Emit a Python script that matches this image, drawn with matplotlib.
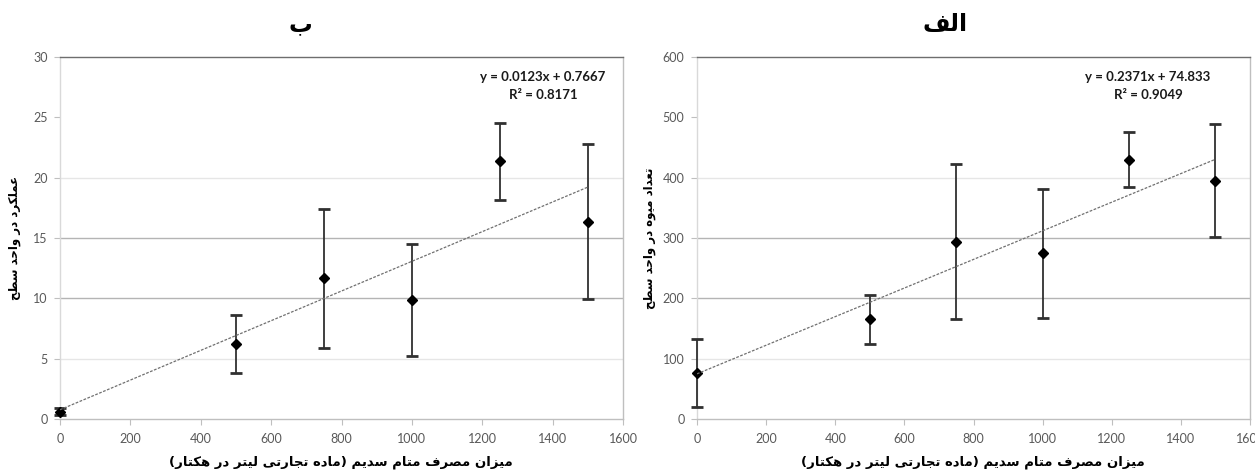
import matplotlib
matplotlib.use("Agg")
import matplotlib.pyplot as plt
import numpy as np

# ---------------- data ----------------
dose = [0, 500, 750, 1000, 1250, 1500]

yield_mean = [0.6, 6.2, 11.65, 9.85, 21.35, 16.35]
yield_err = [0.3, 2.4, 5.75, 4.65, 3.2, 6.4]

fruit_mean = [76, 165, 294, 275, 430, 395]
fruit_err = [56, 41, 129, 107, 45, 94]

yield_slope, yield_intercept, yield_r2 = 0.0123, 0.7667, 0.8171
fruit_slope, fruit_intercept, fruit_r2 = 0.2371, 74.833, 0.9049

x_ticks = [0, 200, 400, 600, 800, 1000, 1200, 1400, 1600]
yield_ticks = [0, 5, 10, 15, 20, 25, 30]
fruit_ticks = [0, 100, 200, 300, 400, 500, 600]

title_left = "ب"
title_right = "الف"
xlabel_text = "میزان مصرف متام سدیم (ماده تجارتی لیتر در هکتار)"
ylabel_left = "عملکرد در واحد سطح"
ylabel_right = "تعداد میوه در واحد سطح"

# ---------------- minimal Persian shaping (presentation forms, visual order) ----------------
FORMS = {
    "\u0627": ("\uFE8D", "\uFE8E", None, None),
    "\u0622": ("\uFE81", "\uFE82", None, None),
    "\u0628": ("\uFE8F", "\uFE90", "\uFE91", "\uFE92"),
    "\u067E": ("\uFB56", "\uFB57", "\uFB58", "\uFB59"),
    "\u062A": ("\uFE95", "\uFE96", "\uFE97", "\uFE98"),
    "\u062B": ("\uFE99", "\uFE9A", "\uFE9B", "\uFE9C"),
    "\u062C": ("\uFE9D", "\uFE9E", "\uFE9F", "\uFEA0"),
    "\u0686": ("\uFB7A", "\uFB7B", "\uFB7C", "\uFB7D"),
    "\u062D": ("\uFEA1", "\uFEA2", "\uFEA3", "\uFEA4"),
    "\u062E": ("\uFEA5", "\uFEA6", "\uFEA7", "\uFEA8"),
    "\u062F": ("\uFEA9", "\uFEAA", None, None),
    "\u0630": ("\uFEAB", "\uFEAC", None, None),
    "\u0631": ("\uFEAD", "\uFEAE", None, None),
    "\u0632": ("\uFEAF", "\uFEB0", None, None),
    "\u0698": ("\uFB8A", "\uFB8B", None, None),
    "\u0633": ("\uFEB1", "\uFEB2", "\uFEB3", "\uFEB4"),
    "\u0634": ("\uFEB5", "\uFEB6", "\uFEB7", "\uFEB8"),
    "\u0635": ("\uFEB9", "\uFEBA", "\uFEBB", "\uFEBC"),
    "\u0636": ("\uFEBD", "\uFEBE", "\uFEBF", "\uFEC0"),
    "\u0637": ("\uFEC1", "\uFEC2", "\uFEC3", "\uFEC4"),
    "\u0638": ("\uFEC5", "\uFEC6", "\uFEC7", "\uFEC8"),
    "\u0639": ("\uFEC9", "\uFECA", "\uFECB", "\uFECC"),
    "\u063A": ("\uFECD", "\uFECE", "\uFECF", "\uFED0"),
    "\u0641": ("\uFED1", "\uFED2", "\uFED3", "\uFED4"),
    "\u0642": ("\uFED5", "\uFED6", "\uFED7", "\uFED8"),
    "\u06A9": ("\uFB8E", "\uFB8F", "\uFB90", "\uFB91"),
    "\u06AF": ("\uFB92", "\uFB93", "\uFB94", "\uFB95"),
    "\u0644": ("\uFEDD", "\uFEDE", "\uFEDF", "\uFEE0"),
    "\u0645": ("\uFEE1", "\uFEE2", "\uFEE3", "\uFEE4"),
    "\u0646": ("\uFEE5", "\uFEE6", "\uFEE7", "\uFEE8"),
    "\u0647": ("\uFEE9", "\uFEEA", "\uFEEB", "\uFEEC"),
    "\u0648": ("\uFEED", "\uFEEE", None, None),
    "\u06CC": ("\uFBFC", "\uFBFD", "\uFBFE", "\uFBFF"),
}


def dual(c):
    return c in FORMS and FORMS[c][2] is not None


def shape(text):
    out = []
    n = len(text)
    for i, c in enumerate(text):
        if c not in FORMS:
            out.append(c)
            continue
        prev = text[i - 1] if i > 0 else ""
        nxt = text[i + 1] if i + 1 < n else ""
        jp = dual(prev)
        jn = dual(c) and nxt in FORMS
        f = FORMS[c]
        if jp and jn:
            out.append(f[3])
        elif jp:
            out.append(f[1])
        elif jn:
            out.append(f[2])
        else:
            out.append(f[0])
    vis = "".join(reversed(out))
    swap = {"(": ")", ")": "("}
    return "".join(swap.get(ch, ch) for ch in vis)


# ---------------- figure ----------------
W, H = 1255, 472
fig = plt.figure(figsize=(W / 100, H / 100), dpi=100)
fig.patch.set_facecolor("white")

tick_font = dict(family=["Lato", "DejaVu Sans"], size=9, color="#595959")
fa_font = ["DejaVu Sans"]


def style_axes(ax, yticks, means, errs, slope, intercept, r2, eq_x, ylab, ylab_x):
    ax.set_xlim(0, 1600)
    ax.set_ylim(yticks[0], yticks[-1])
    ax.set_xticks(x_ticks)
    ax.set_yticks(yticks)
    ax.set_xticklabels([str(t) for t in x_ticks], fontdict=tick_font)
    ax.set_yticklabels([str(t) for t in yticks], fontdict=tick_font)
    ax.tick_params(axis="both", length=4, width=0.8, color="#bfbfbf")
    ax.tick_params(axis="x", pad=6)
    ax.tick_params(axis="y", pad=5)
    ax.spines["left"].set_color("#d9d9d9")
    ax.spines["bottom"].set_color("#bfbfbf")
    ax.spines["right"].set_color("#bfbfbf")
    ax.spines["top"].set_color("#6e6e6e")
    for sp in ax.spines.values():
        sp.set_linewidth(1.0)
    # gridlines (shades as they appear in the reference)
    shades = ["#e6e6e6", "#e6e6e6", "#b4b4b4", "#b4b4b4", "#e6e6e6", "#e6e6e6"]
    for t, c in zip(yticks[1:-1], shades[1:-1]):
        ax.axhline(t, color=c, lw=1.0, zorder=0)

    ax.errorbar(dose, means, yerr=errs, fmt="none", ecolor="#303030",
                elinewidth=1.3, capsize=4.5, capthick=2.0, zorder=3, clip_on=False)
    ax.plot(dose, means, linestyle="none", marker="D", markersize=5.5,
            color="black", zorder=4, clip_on=False)
    xs = np.array([dose[0], dose[-1]])
    ax.plot(xs, slope * xs + intercept, color="#707070", lw=0.9,
            linestyle=(0, (2.2, 1.2)), zorder=5)

    eq = f"y = {slope}x + {intercept}\nR\u00b2 = {r2}"
    ax.text(eq_x, (419 - 86) / 362, eq, transform=ax.transAxes, ha="center",
            va="center", fontsize=9.5, fontweight="bold",
            family=["Lato", "DejaVu Sans"], linespacing=1.55, color="#1a1a1a")

    fig.text(ylab_x, 1 - 238 / H, shape(ylab), rotation=90,
             ha="center", va="center", fontsize=8.5, family=fa_font,
             fontweight="bold", color="black")


axL = fig.add_axes([60 / W, 53 / H, 563 / W, 362 / H])
axR = fig.add_axes([697 / W, 53 / H, 553 / W, 362 / H])

style_axes(axL, yield_ticks, yield_mean, yield_err, yield_slope, yield_intercept,
           yield_r2, (543 - 60) / 563, ylabel_left, 15 / W)
style_axes(axR, fruit_ticks, fruit_mean, fruit_err, fruit_slope, fruit_intercept,
           fruit_r2, (1148 - 697) / 553, ylabel_right, 650 / W)

# x labels
fig.text(341 / W, 1 - 462 / H, shape(xlabel_text), ha="center", va="center",
         fontsize=9.5, family=fa_font, fontweight="bold")
fig.text(973 / W, 1 - 462 / H, shape(xlabel_text), ha="center", va="center",
         fontsize=9.5, family=fa_font, fontweight="bold")

# panel titles
fig.text(300 / W, 1 - 24 / H, shape(title_left), ha="center", va="center",
         fontsize=17, family=fa_font, fontweight="bold")
fig.text(945 / W, 1 - 24 / H, shape(title_right), ha="center", va="center",
         fontsize=17, family=fa_font, fontweight="bold")

fig.savefig("out.png", dpi=100, facecolor="white")
